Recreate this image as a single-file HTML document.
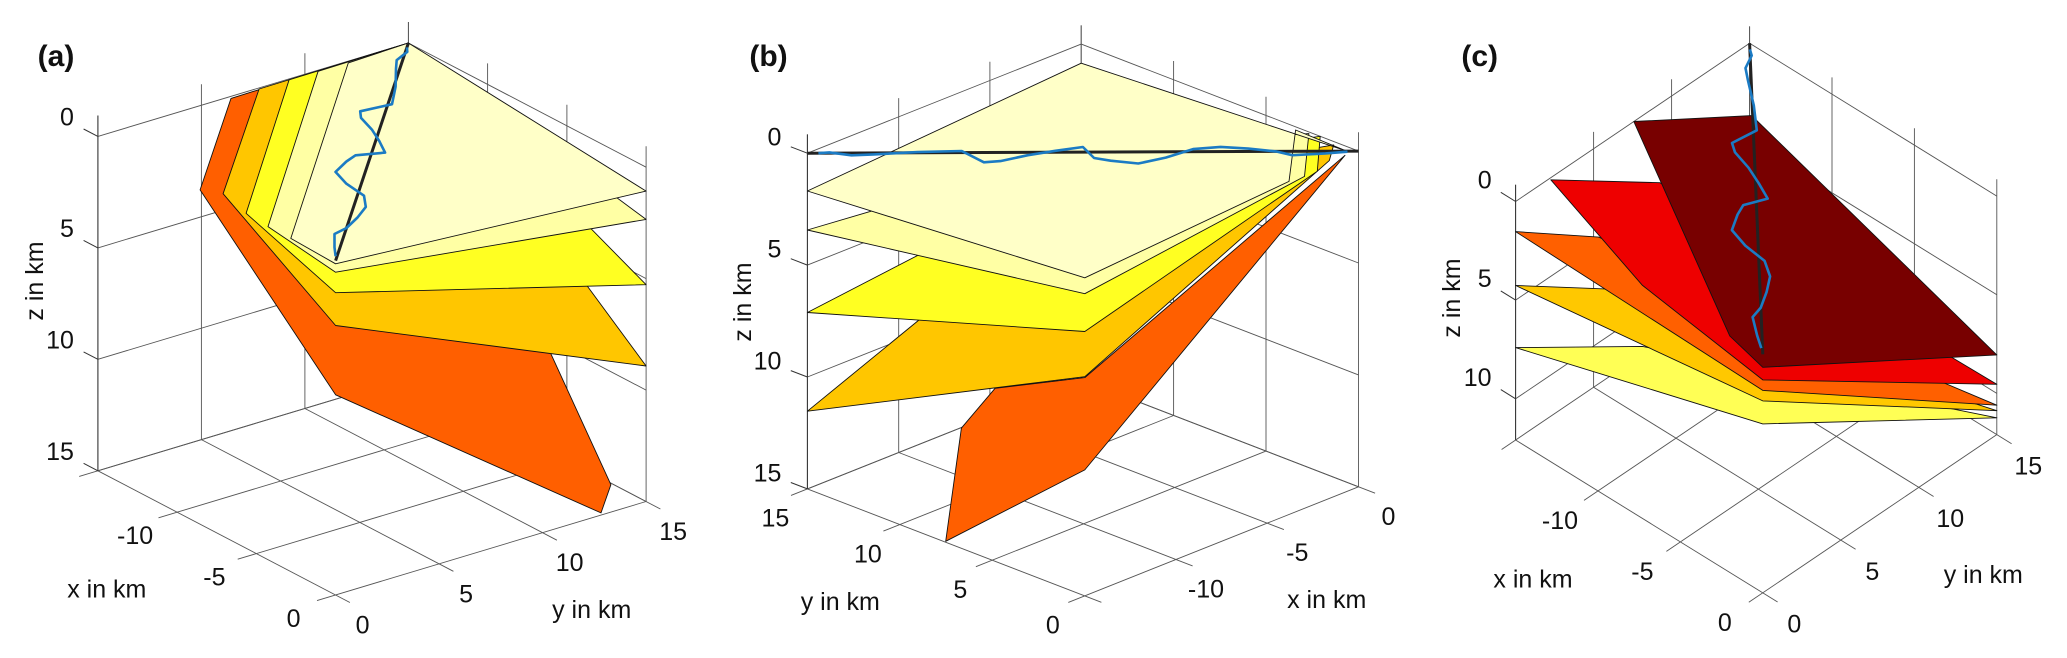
<!DOCTYPE html>
<html><head><meta charset="utf-8">
<style>
html,body{margin:0;padding:0;background:#fff;}
svg{display:block;font-family:"Liberation Sans",sans-serif;}
.tk{font-size:25px;fill:#111;}
.ttl{font-size:25px;fill:#111;}
.pl{font-size:30px;font-weight:bold;fill:#111;}
</style></head>
<body>
<svg id="fig" width="2067" height="658" viewBox="0 0 2067 658" xmlns="http://www.w3.org/2000/svg">
<g id="panels"></g>
</svg>
<script>
// ---- data ----
const xTicks = [-15,-10,-5,0];
const yTicks = [0,5,10,15];
const xTickLabels = ['-10','-5','0'];
const xTickLabelVals = [-10,-5,0];
const yTickLabels = ['0','5','10','15'];
const zTicksAB = [0,5,10,15];
const zTicksC = [0,5,10];
// borehole from (0,0,0) to (-15,15,0); wiggle deviation along (1,1,0)
const boreStart = [0,0,0];
const boreEnd = [-15,15,0];
const wiggleS = [0.02,0.06,0.12,0.15,0.20,0.25,0.30,0.35,0.40,0.45,0.48,0.50,0.55,0.60,0.65,0.68,0.72,0.80,0.88,0.92,0.96,0.98];
const wiggleD = [-0.04,-0.15,-0.27,0,0.2,0.33,0.18,-0.4,-0.8,-0.6,-0.41,0.36,0.1,-0.2,-0.6,-0.68,0.11,0.05,-0.1,-0.16,0.05,0];
// surfaces panel a (x,y,z vertices)
const surfA5 = [[-15,6.43,0.09],[-15,4.94,3.78],[0,0,6.02],[0,12.82,14.9],[0,13.3,13.77],[-15,15,0]];
const surfA4 = [[-15,7.79,0.05],[-15,6.05,4.26],[0,0,2.91],[0,15,8.92],[-15,15,0]];
const surfA3 = [[-15,9.24,0.04],[-15,7.16,5.45],[0,0,1.44],[0,15,5.27],[-15,15,0]];
const surfA2 = [[-15,10.64,0.05],[-15,8.22,6.34],[0,0,0.52],[0,15,2.34],[-15,15,0]];
const surfA1 = [[-15,15,0],[0,15,1.07],[0,0,0.14],[-15,9.32,7.18],[-15,12.1,0.08]];
// panel b
const surfB5 = [[-15,0,5.25],[0,0.73,0.42],[-15,0,9.37],[-15,7.52,14.96],[-15,6.67,9.63],[-15,4.85,7.27]];
const surfB4 = [[0,15,6.4],[-15,15,11.53],[-15,0,5.21],[0,1.58,0.93],[0,1.34,0.15]];
const surfB3 = [[0,15,5.66],[-15,15,7.12],[-15,0,3.19],[0,2.23,1.61],[0,2.07,0]];
const surfB2 = [[0,15,4.7],[-15,15,3.43],[-15,0,1.5],[0,2.92,2.06],[0,2.68,0.07]];
const surfB1 = [[0,15,0.85],[-15,15,1.69],[-15,0,0.79],[0,3.76,2.55],[0,3.4,0.14],[0,0.73,0.2]];
// panel c
const surfC5 = [[-15,0,7.41],[-7.3,0,3.37],[0,15,11.24],[0,0,3.53]];
const surfC4 = [[-15,0,4.26],[-8.37,0,1.05],[0,15,10.88],[0,0,2.36]];
const surfC3 = [[-15,0,1.53],[-10.7,0.77,0],[0,15,10.6],[0,0,1.83]];
const surfC2 = [[-14.9,2.15,0],[-11.3,5.35,0],[0,15,9.54],[0,0,1.3],[-7.3,0,0.28]];
const surfC1 = [[-15,7.58,0],[-11.54,11.48,0],[0,15,8.05],[0,0,0.66],[-2,0,0.1]];
const colorsAB = ['#FF5F00','#FFC600','#FFFF22','#FFFFA4','#FFFFC8'];
const colorsC = ['#FFFF55','#FFC800','#FF6000','#EE0000','#780000'];

// ---- panel projection configs ----
const panels = [
 {id:'a', o:[335.6,260.65], ex:[15.85,8.28], ey:[20.7,-6.23], ez:22.29, zlo:-0.94, zhi:15,
  walls:{x:-15,y:15}, zAxis:[-15,0], zDir:[-1,0,0], xEdgeY:0, xDir:-1, yEdgeX:0, yDir:1,
  zTicks:zTicksAB, surfs:[surfA5,surfA4,surfA3,surfA2,surfA1], cols:colorsAB,
  zOff:[-24,-18.7], xOff:[-42,24], yOff:[27,30.5], zAnchor:'end',
  title:[56,56.7], xT:[106.8,589.6], yT:[591.7,610], zT:[35,281]},
 {id:'b', o:[1358.5,151.1], ex:[18.25,-7.27], ey:[-18.49,-7.13], ez:22.38, zlo:-0.84, zhi:15,
  walls:{x:0,y:15}, zAxis:[-15,15], zDir:[0,1,0], xEdgeY:0, xDir:-1, yEdgeX:-15, yDir:-1,
  zTicks:zTicksAB, surfs:[surfB5,surfB4,surfB3,surfB2,surfB1], cols:colorsAB,
  zOff:[-26,-15.5], xOff:[30,30], yOff:[-32,29.7], zAnchor:'end',
  title:[768.5,56.7], xT:[1326.7,600], yT:[840.3,602.2], zT:[743,302]},
 {id:'c', o:[1762.8,354.3], ex:[16.48,10.19], ey:[15.6,-10.55], ez:19.73, zlo:-0.85, zhi:12.09,
  walls:{x:-15,y:15}, zAxis:[-15,0], zDir:[-1,0,0], xEdgeY:0, xDir:-1, yEdgeX:0, yDir:1,
  zTicks:zTicksC, surfs:[surfC5,surfC4,surfC3,surfC2,surfC1], cols:colorsC,
  zOff:[-24,-21], xOff:[-38,30], yOff:[31.5,31.7], zAnchor:'end',
  title:[1479.7,56.7], xT:[1533,579.3], yT:[1983.3,575], zT:[1452.2,298]}
];
const NS='http://www.w3.org/2000/svg';
const root=document.getElementById('panels');
function mk(tag,attrs,parent){const e=document.createElementNS(NS,tag);for(const k in attrs)e.setAttribute(k,attrs[k]);parent.appendChild(e);return e;}
function proj(p,v){return [p.o[0]+p.ex[0]*v[0]+p.ey[0]*v[1], p.o[1]+p.ex[1]*v[0]+p.ey[1]*v[1]+p.ez*v[2]];}
function line(p,g,a,b,stroke,w){const A=proj(p,a),B=proj(p,b);return mk('line',{x1:A[0].toFixed(1),y1:A[1].toFixed(1),x2:B[0].toFixed(1),y2:B[1].toFixed(1),stroke:stroke,'stroke-width':w},g);}
const TL=0.9;
panels.forEach(p=>{
  const g=mk('g',{},root);
  
  
  const grid=mk('g',{},g);
  
  
  const gc='#555', gw=0.9;
  const WX=p.walls.x, WY=p.walls.y;
  yTicks.forEach(y=>{line(p,grid,[WX,y,p.zlo],[WX,y,p.zhi],gc,gw);});
  p.zTicks.forEach(z=>{line(p,grid,[WX,0,z],[WX,15,z],gc,gw);});
  xTicks.forEach(x=>{line(p,grid,[x,WY,p.zlo],[x,WY,p.zhi],gc,gw);});
  p.zTicks.forEach(z=>{line(p,grid,[-15,WY,z],[0,WY,z],gc,gw);});
  xTicks.forEach(x=>{
    const ys = p.xEdgeY===0 ? [-TL,15] : [0,15+TL];
    line(p,grid,[x,ys[0],p.zhi],[x,ys[1],p.zhi],gc,gw);});
  yTicks.forEach(y=>{
    const xs = p.yEdgeX===0 ? [-15,TL] : [-15-TL,0];
    line(p,grid,[xs[0],y,p.zhi],[xs[1],y,p.zhi],gc,gw);});
  const za=p.zAxis;
  line(p,grid,[za[0],za[1],p.zlo],[za[0],za[1],p.zhi],'#333',1);
  p.zTicks.forEach(z=>{line(p,grid,[za[0],za[1],z],[za[0]+p.zDir[0]*TL,za[1]+p.zDir[1]*TL,z],'#333',1);});
  p.surfs.forEach((s,i)=>{
    const pts=s.map(v=>proj(p,v).map(n=>n.toFixed(1)).join(',')).join(' ');
    const poly=mk('polygon',{points:pts,fill:p.cols[i],stroke:'#111','stroke-width':0.9,'stroke-linejoin':'round'},g);
    
    
  });
  const bh=line(p,g,boreStart,boreEnd,'#222',3);
  
  
  const wp=wiggleS.map((s,i)=>{const d=wiggleD[i];
    const v=[boreStart[0]+(boreEnd[0]-boreStart[0])*s+d, boreStart[1]+(boreEnd[1]-boreStart[1])*s+d, 0];
    return proj(p,v).map(n=>n.toFixed(1)).join(',');}).join(' ');
  const tr=mk('polyline',{points:wp,fill:'none',stroke:'#1B7BC4','stroke-width':2.6,'stroke-linejoin':'round'},g);
  
  
  p.zTicks.forEach(z=>{const P=proj(p,[za[0],za[1],z]);
    const t=mk('text',{x:(P[0]+p.zOff[0]).toFixed(1),y:(P[1]+p.zOff[1]).toFixed(1),'text-anchor':p.zAnchor,'dominant-baseline':'central',class:'tk'},g);
    t.textContent=String(z);
    
    });
  xTickLabelVals.forEach((x,i)=>{const P=proj(p,[x,p.xEdgeY,p.zhi]);
    const t=mk('text',{x:(P[0]+p.xOff[0]).toFixed(1),y:(P[1]+p.xOff[1]).toFixed(1),'text-anchor':'middle','dominant-baseline':'central',class:'tk'},g);
    t.textContent=xTickLabels[i];
    
    });
  yTicks.forEach((y,i)=>{const P=proj(p,[p.yEdgeX,y,p.zhi]);
    const t=mk('text',{x:(P[0]+p.yOff[0]).toFixed(1),y:(P[1]+p.yOff[1]).toFixed(1),'text-anchor':'middle','dominant-baseline':'central',class:'tk'},g);
    t.textContent=yTickLabels[i];
    
    });
  const pt=mk('text',{x:p.title[0],y:p.title[1],'text-anchor':'middle','dominant-baseline':'central',class:'pl'},g);
  pt.textContent='('+p.id+')';
  
  
  const xt=mk('text',{x:p.xT[0],y:p.xT[1],'text-anchor':'middle','dominant-baseline':'central',class:'ttl'},g);
  xt.textContent='x in km';
  
  
  const yt=mk('text',{x:p.yT[0],y:p.yT[1],'text-anchor':'middle','dominant-baseline':'central',class:'ttl'},g);
  yt.textContent='y in km';
  
  
  const zt=mk('text',{x:p.zT[0],y:p.zT[1],'text-anchor':'middle','dominant-baseline':'central',class:'ttl',transform:'rotate(-90 '+p.zT[0]+' '+p.zT[1]+')'},g);
  zt.textContent='z in km';
  
  
});
</script>
</body></html>
